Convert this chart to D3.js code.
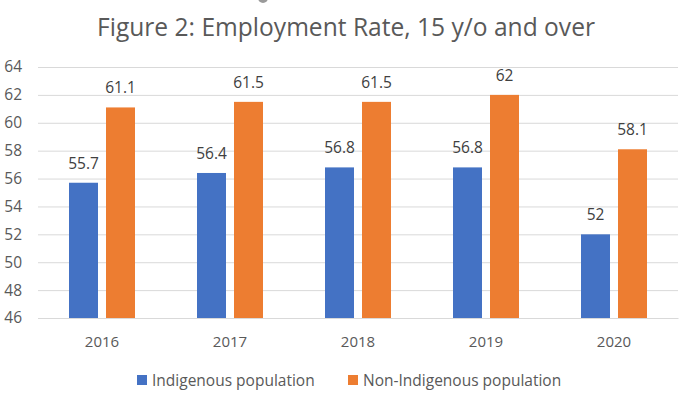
<!DOCTYPE html>
<html>
<head>
<meta charset="utf-8">
<script src="https://cdn.jsdelivr.net/npm/d3@7"></script>
<style>
  body { margin: 0; background: #fff; }
  svg { display: block; font-family: "Open Sans", "Noto Sans", sans-serif; }
</style>
</head>
<body>
<svg width="689" height="399"></svg>
<script>
// chart data
const years = ["2016", "2017", "2018", "2019", "2020"];
const seriesNames = ["Indigenous population", "Non-Indigenous population"];
const indigenous = [55.7, 56.4, 56.8, 56.8, 52];
const nonIndigenous = [61.1, 61.5, 61.5, 62, 58.1];
const yTicks = [46, 48, 50, 52, 54, 56, 58, 60, 62, 64];
const colors = ["#4472C4", "#ED7D31"];

const rows = years.map((y, i) => ({
  year: y,
  values: [indigenous[i], nonIndigenous[i]]
}));

const svg = d3.select("svg");

const margin = { top: 67, left: 38, right: 11, bottom: 81 };
const width = +svg.attr("width");
const height = +svg.attr("height");

const x0 = d3.scaleBand().domain(years).range([margin.left, width - margin.right]);
const x1 = d3.scaleBand().domain([0, 1]).range([-33, 33]).paddingInner(8 / 37);
const y = d3.scaleLinear().domain([46, 64]).range([height - margin.bottom, margin.top]);

// little grey handle peeking in at the top
svg.append("circle")
  .attr("cx", 263).attr("cy", -2).attr("r", 5)
  .attr("fill", "#9a9a9a");

// title
svg.append("text")
  .attr("x", 346)
  .attr("y", 36)
  .attr("text-anchor", "middle")
  .attr("font-size", 25)
  .attr("fill", "#595959")
  .attr("textLength", 498)
  .attr("lengthAdjust", "spacingAndGlyphs")
  .text("Figure 2: Employment Rate, 15 y/o and over");

// gridlines + y labels
const yAxis = d3.axisLeft(y)
  .tickValues(yTicks)
  .tickSize(-(width - margin.left - margin.right))
  .tickPadding(16);

const yAxisG = svg.append("g")
  .attr("transform", `translate(${margin.left},0)`)
  .call(yAxis);
yAxisG.select(".domain").remove();
yAxisG.selectAll(".tick line").attr("stroke", "#d9d9d9").attr("stroke-width", 1);
yAxisG.selectAll(".tick text")
  .attr("fill", "#595959")
  .attr("font-size", 15.5)
  .attr("font-family", "\"Open Sans\", sans-serif");

// bottom axis labels
const xAxis = d3.axisBottom(x0).tickSize(0).tickPadding(18);
const xAxisG = svg.append("g")
  .attr("transform", `translate(0,${height - margin.bottom})`)
  .call(xAxis);
xAxisG.select(".domain").attr("stroke", "#d9d9d9");
xAxisG.selectAll(".tick text")
  .attr("fill", "#595959")
  .attr("font-size", 15)
  .attr("font-family", "\"Open Sans\", sans-serif");

// bars
const groups = svg.selectAll(".year")
  .data(rows)
  .enter().append("g")
  .attr("class", "year")
  .attr("transform", d => `translate(${x0(d.year) + x0.bandwidth() / 2},0)`);

groups.selectAll("rect")
  .data(d => d.values)
  .enter().append("rect")
  .attr("x", (d, i) => x1(i))
  .attr("width", x1.bandwidth())
  .attr("y", d => y(d))
  .attr("height", d => y(46) - y(d))
  .attr("fill", (d, i) => colors[i]);

groups.selectAll(".val")
  .data(d => d.values)
  .enter().append("text")
  .attr("class", "val")
  .attr("x", (d, i) => x1(i) + x1.bandwidth() / 2)
  .attr("y", d => y(d) - 14)
  .attr("text-anchor", "middle")
  .attr("font-size", 15.5)
  .attr("fill", "#404040")
  .text(d => d);

// legend
const legendPos = [137, 348];
const legend = svg.selectAll(".legend")
  .data(seriesNames)
  .enter().append("g")
  .attr("class", "legend")
  .attr("transform", (d, i) => `translate(${legendPos[i]},381)`);

legend.append("rect")
  .attr("x", 0).attr("y", -6)
  .attr("width", 10).attr("height", 10)
  .attr("fill", (d, i) => colors[i]);

legend.append("text")
  .attr("x", 15)
  .attr("dy", "0.32em")
  .attr("font-size", 15.5)
  .attr("fill", "#595959")
  .text(d => d);
</script>
</body>
</html>
